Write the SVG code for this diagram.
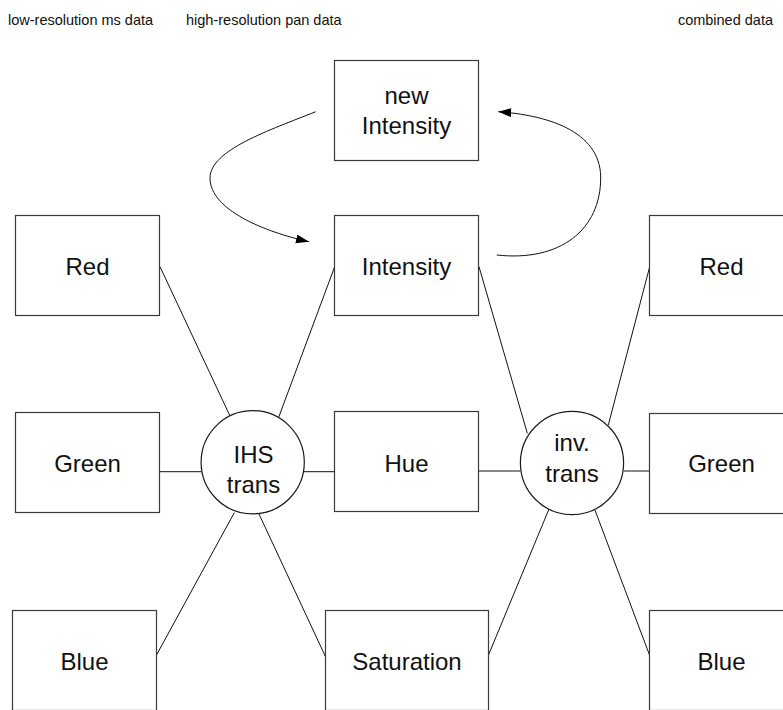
<svg xmlns="http://www.w3.org/2000/svg" width="783" height="710" viewBox="0 0 783 710">
<style>
.box{fill:#fff;stroke:#3a3a3a;stroke-width:1.2}
.circ{fill:#fff;stroke:#1a1a1a;stroke-width:1.2}
.lbl{font-family:"Liberation Sans",Arial,sans-serif;font-size:24px;fill:#111;text-anchor:middle}
.hdr{font-family:"Liberation Sans",Arial,sans-serif;font-size:14.5px;fill:#111}
.ln{fill:none;stroke:#111;stroke-width:1}
</style>
<defs>
<marker id="ah" markerUnits="userSpaceOnUse" markerWidth="14" markerHeight="10" refX="13" refY="4.5" orient="auto"><path d="M0,0 L13,4.5 L0,9 z" fill="#000"/></marker>
</defs>
<rect width="783" height="710" fill="#fff"/>
<g id="headers">
<text class="hdr" x="8" y="25">low-resolution ms data</text>
<text class="hdr" x="186" y="25">high-resolution pan data</text>
<text class="hdr" x="773" y="25" text-anchor="end">combined data</text>
</g>
<g id="connectors">
<path class="ln" d="M160,266.7 L230,416"/>
<path class="ln" d="M334.7,266.7 L278.3,418.3"/>
<path class="ln" d="M159.5,471.7 L201.5,471.7"/>
<path class="ln" d="M304,471.7 L334.5,471.7"/>
<path class="ln" d="M234.3,512.7 L156.5,655"/>
<path class="ln" d="M259,514 L325.5,656.7"/>
<path class="ln" d="M479,266.7 L527.3,433.3"/>
<path class="ln" d="M649.7,266.7 L608.3,425"/>
<path class="ln" d="M478.5,471 L520.5,471"/>
<path class="ln" d="M623.5,471 L649.5,471"/>
<path class="ln" d="M549.3,508.3 L488.5,655"/>
<path class="ln" d="M594.3,508.3 L649.5,655"/>
<path class="ln" d="M315.7,111.7 C270,130 210,150 210,178 C210,210 265,232 309,241.7" marker-end="url(#ah)"/>
<path class="ln" d="M496.7,255 C560,262 601,230 600.7,177 C600,130 545,115 498.3,111.7" marker-end="url(#ah)"/>
</g>
<g id="new-intensity"><rect class="box" x="334.5" y="60.5" width="144" height="100"/><text class="lbl" x="406.5" y="103.5">new</text><text class="lbl" x="406.5" y="134">Intensity</text></g>
<g id="red-left"><rect class="box" x="15.5" y="215.5" width="144" height="100"/><text class="lbl" x="87.5" y="275">Red</text></g>
<g id="intensity"><rect class="box" x="334.5" y="215.5" width="144" height="100"/><text class="lbl" x="406.5" y="275">Intensity</text></g>
<g id="red-right"><rect class="box" x="649.5" y="215.5" width="144" height="100"/><text class="lbl" x="721.5" y="275">Red</text></g>
<g id="green-left"><rect class="box" x="15.5" y="412.5" width="144" height="100"/><text class="lbl" x="87.5" y="472">Green</text></g>
<g id="ihs-trans"><circle class="circ" cx="252.7" cy="462.3" r="51.6"/><text class="lbl" x="253.5" y="462.5">IHS</text><text class="lbl" x="253.5" y="492.5">trans</text></g>
<g id="hue"><rect class="box" x="334.5" y="411.5" width="144" height="100"/><text class="lbl" x="406.5" y="472">Hue</text></g>
<g id="inv-trans"><circle class="circ" cx="572" cy="463" r="51.6"/><text class="lbl" x="572" y="450.5">inv.</text><text class="lbl" x="572" y="481.5">trans</text></g>
<g id="green-right"><rect class="box" x="649.5" y="413.5" width="144" height="100"/><text class="lbl" x="721.5" y="472">Green</text></g>
<g id="blue-left"><rect class="box" x="12.5" y="610.5" width="144" height="100"/><text class="lbl" x="84.5" y="670">Blue</text></g>
<g id="saturation"><rect class="box" x="325.5" y="610.5" width="163" height="100"/><text class="lbl" x="407" y="670">Saturation</text></g>
<g id="blue-right"><rect class="box" x="649.5" y="610.5" width="144" height="100"/><text class="lbl" x="721.5" y="670">Blue</text></g>
</svg>
